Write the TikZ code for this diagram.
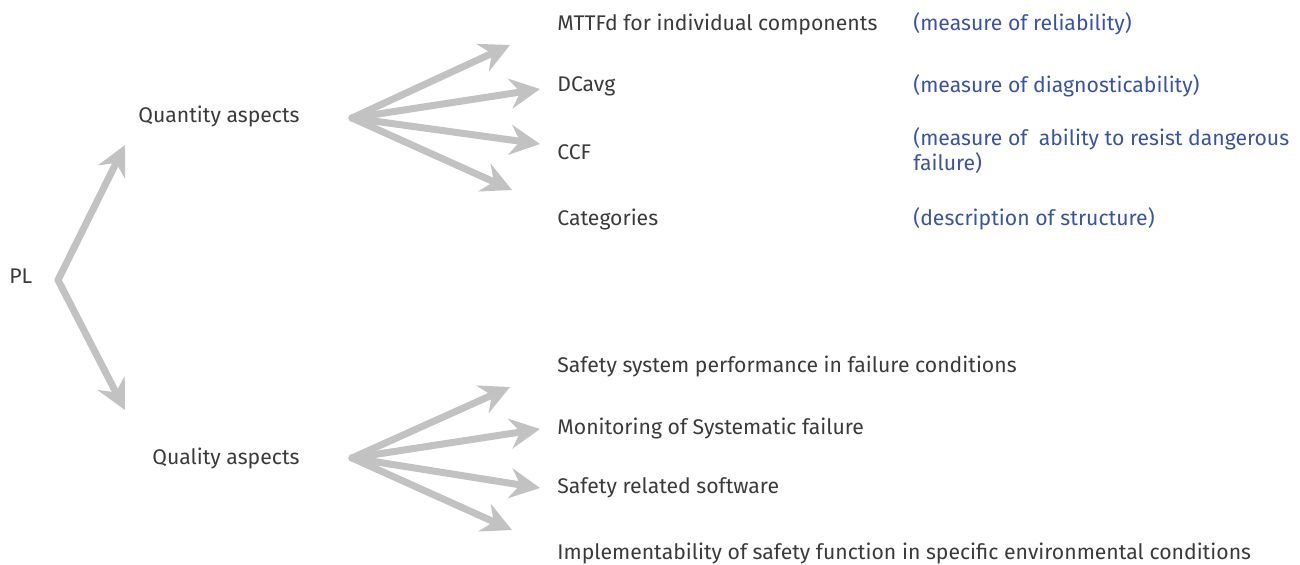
\documentclass[tikz,border=0pt]{standalone}
\usepackage{fontspec}
\setmainfont{Fira Sans}
\usetikzlibrary{arrows.meta}
\definecolor{txtgray}{HTML}{3A3A3A}
\definecolor{txtblue}{HTML}{3A52A2}
\definecolor{arrgray}{HTML}{C2C2C2}
\tikzset{
  item/.style={anchor=west, inner sep=0pt, text=txtgray, font=\fontsize{10.6}{12.5}\selectfont},
  note/.style={item, text=txtblue, align=left},
  fan/.style={draw=arrgray, line width=3.5pt, line cap=round,
    -{Stealth[length=15pt, width=15pt, inset=5pt]}}
}
\begin{document}
\begin{tikzpicture}[x=0.5pt, y=-0.5pt]
\useasboundingbox (0,0) rectangle (1300,564);
% left part
\node[item] (pl) at (9,276) {PL};
\node[item] (quant) at (138,116) {Quantity aspects};
\node[item] (qual) at (152,458) {Quality aspects};
\coordinate (plhub) at (58,280);
\coordinate (quanttip) at (125,145);
\coordinate (qualtip) at (125,410);
\draw[fan] (plhub)--(quanttip);
\draw[fan] (plhub)--(qualtip);
% quantity aspects
\node[item] (mttf) at (557,24) {MTTFd for individual components};
\node[item] (dc) at (557,86) {DCavg};
\node[item] (ccf) at (557,152) {CCF};
\node[item] (cat) at (557,219) {Categories};
\node[note] (nmttf) at (913,24) {(measure of reliability)};
\node[note] (ndc) at (913,86) {(measure of diagnosticability)};
\node[note] (nccf) at (913,151) {(measure of \ ability to resist dangerous\\failure)};
\node[note] (ncat) at (913,219) {(description of structure)};
\coordinate (quanthub) at (352,118);
\coordinate (t1) at (510,45);
\coordinate (t2) at (540,89);
\coordinate (t3) at (540,144);
\coordinate (t4) at (512,190);
\foreach \t in {t1,t2,t3,t4}
  \draw[fan] (quanthub)--(\t);
% quality aspects
\node[item] (perf) at (557,366) {Safety system performance in failure conditions};
\node[item] (mon) at (557,428) {Monitoring of Systematic failure};
\node[item] (soft) at (557,488) {Safety related software};
\node[item] (impl) at (557,553) {Implementability of safety function in specific environmental conditions};
\coordinate (qualhub) at (352,458);
\coordinate (s1) at (510,387);
\coordinate (s2) at (540,429);
\coordinate (s3) at (540,488);
\coordinate (s4) at (512,530);
\foreach \t in {s1,s2,s3,s4}
  \draw[fan] (qualhub)--(\t);
\end{tikzpicture}
\end{document}
